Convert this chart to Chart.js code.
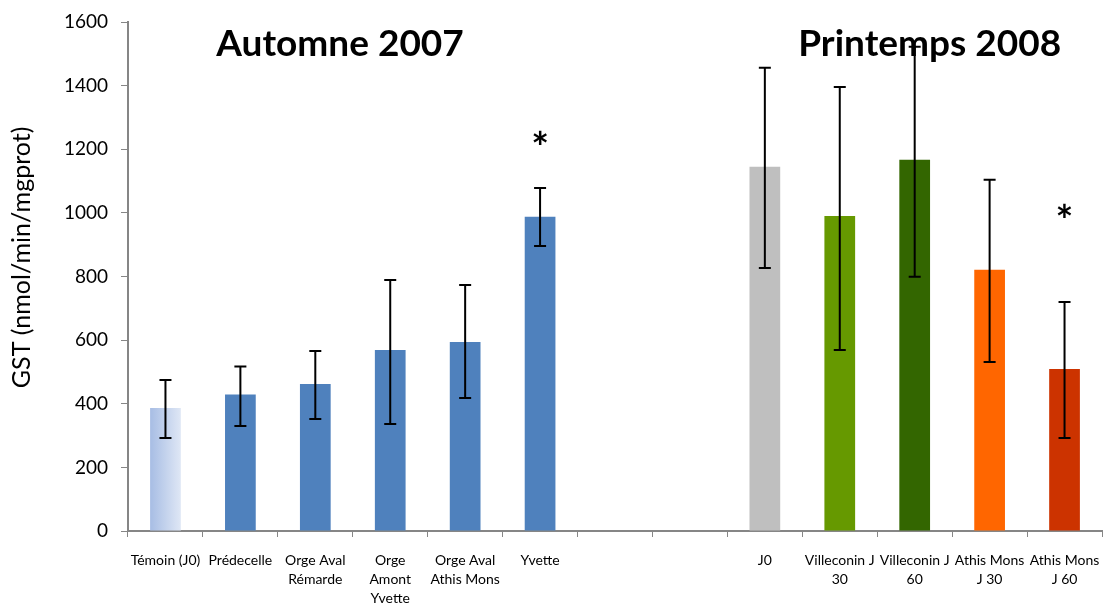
<!DOCTYPE html>
<html>
<head>
<meta charset="utf-8">
<script src="https://cdn.jsdelivr.net/npm/chart.js@4/dist/chart.umd.min.js"></script>
<style>
  html, body { margin: 0; padding: 0; background: #fff; }
  #wrap { width: 1104px; height: 606px; }
</style>
</head>
<body>
<div id="wrap"><canvas id="chart"></canvas></div>
<script>
// categories (two empty slots separate the two campaigns)
const categories = [
    "Témoin (J0)", "Prédecelle", ["Orge Aval", "Rémarde"], ["Orge", "Amont", "Yvette"],
    ["Orge Aval", "Athis Mons"], "Yvette", "", "",
    "J0", ["Villeconin J", "30"], ["Villeconin J", "60"], ["Athis Mons", "J 30"], ["Athis Mons", "J 60"]
];
const gstValues = [387, 429, 462, 569, 594, 988, null, null, 1145, 990, 1167, 821, 509];
const errLow = [292, 330, 352, 336, 418, 896, null, null, 827, 569, 799, 531, 292];
const errHigh = [475, 517, 566, 789, 773, 1078, null, null, 1456, 1396, 1522, 1104, 720];
const barColors = ["#c3d3ee", "#4f81bd", "#4f81bd", "#4f81bd", "#4f81bd", "#4f81bd", "#fff", "#fff",
    "#bfbfbf", "#669900", "#336600", "#ff6600", "#cc3300"];
// significance stars: category index and the value level where they sit
const starIndex = [5, 12];
const starLevel = [1232, 1000];
const yTicks = [0, 200, 400, 600, 800, 1000, 1200, 1400, 1600];
const periodTitles = ["Automne 2007", "Printemps 2008"];
const yTitle = "GST (nmol/min/mgprot)";

const FONT = "Lato, 'Open Sans', sans-serif";

function barFill(ctx) {
    const chart = ctx.chart;
    if (ctx.dataIndex !== 0 || !chart.scales.x) return barColors[ctx.dataIndex];
    const xs = chart.scales.x;
    const half = xs.width / categories.length * 0.41 / 2;
    const cx = xs.getPixelForValue(0);
    if (!isFinite(cx)) return barColors[0];
    const g = chart.ctx.createLinearGradient(cx - half, 0, cx + half, 0);
    g.addColorStop(0, "#a7bde4");
    g.addColorStop(1, "#dfe7f5");
    return g;
}

const errorBars = {
    id: "errorBars",
    afterDatasetsDraw(chart) {
        const { ctx, scales: { x, y } } = chart;
        ctx.save();
        ctx.strokeStyle = "#000";
        ctx.lineWidth = 2;
        errLow.forEach((lo, i) => {
            if (lo == null) return;
            const px = x.getPixelForValue(i);
            const top = y.getPixelForValue(errHigh[i]);
            const bot = y.getPixelForValue(lo);
            ctx.beginPath();
            ctx.moveTo(px, top); ctx.lineTo(px, bot);
            ctx.moveTo(px - 6, top); ctx.lineTo(px + 6, top);
            ctx.moveTo(px - 6, bot); ctx.lineTo(px + 6, bot);
            ctx.stroke();
        });
        // stars
        ctx.fillStyle = "#000";
        ctx.font = "bold 42px " + FONT;
        ctx.textAlign = "center";
        ctx.textBaseline = "middle";
        starIndex.forEach((idx, k) => {
            ctx.fillText("*", x.getPixelForValue(idx), y.getPixelForValue(starLevel[k]) + 10);
        });
        // period titles
        ctx.font = "bold 37px " + FONT;
        ctx.textBaseline = "alphabetic";
        ctx.fillText(periodTitles[0], x.getPixelForValue(2.33), 56);
        ctx.fillText(periodTitles[1], x.getPixelForValue(10.2), 56);
        // y axis title, sits a bit above the middle like the original
        ctx.translate(22, y.getPixelForValue(860));
        ctx.rotate(-Math.PI / 2);
        ctx.font = "25px " + FONT;
        ctx.textBaseline = "middle";
        ctx.fillText(yTitle, 0, 0);
        ctx.restore();
    }
};

new Chart(document.getElementById("chart"), {
    type: "bar",
    data: {
        labels: categories,
        datasets: [{
            data: gstValues,
            backgroundColor: barFill,
            borderWidth: 0,
            categoryPercentage: 1,
            barPercentage: 0.41
        }]
    },
    options: {
        responsive: true,
        maintainAspectRatio: false,
        animation: false,
        layout: { padding: { top: 22, right: 2, left: 0, bottom: 0 } },
        plugins: { legend: { display: false }, tooltip: { enabled: false } },
        scales: {
            x: {
                grid: { display: true, drawOnChartArea: false, drawTicks: true, tickLength: 6, color: "#868686", offset: true },
                border: { color: "#868686", width: 2 },
                ticks: { color: "#000", font: { family: FONT, size: 14, lineHeight: 1.35 }, maxRotation: 0, autoSkip: false, padding: 14 },
                afterFit(scale) {
                    scale.height = 75;
                    scale.paddingLeft = 0;
                    scale.paddingRight = 0;
                }
            },
            y: {
                min: 0,
                max: 1600,
                afterBuildTicks(scale) { scale.ticks = yTicks.map(v => ({ value: v })); },
                grid: { display: true, drawOnChartArea: false, drawTicks: true, tickLength: 7, color: "#868686" },
                border: { color: "#868686", width: 2 },
                ticks: { color: "#000", font: { family: FONT, size: 19 }, padding: 13, callback: v => String(v) },
                afterFit(scale) {
                    scale.width = 128;
                    scale.paddingTop = 0;
                    scale.paddingBottom = 0;
                }
            }
        }
    },
    plugins: [errorBars]
});
</script>
</body>
</html>
